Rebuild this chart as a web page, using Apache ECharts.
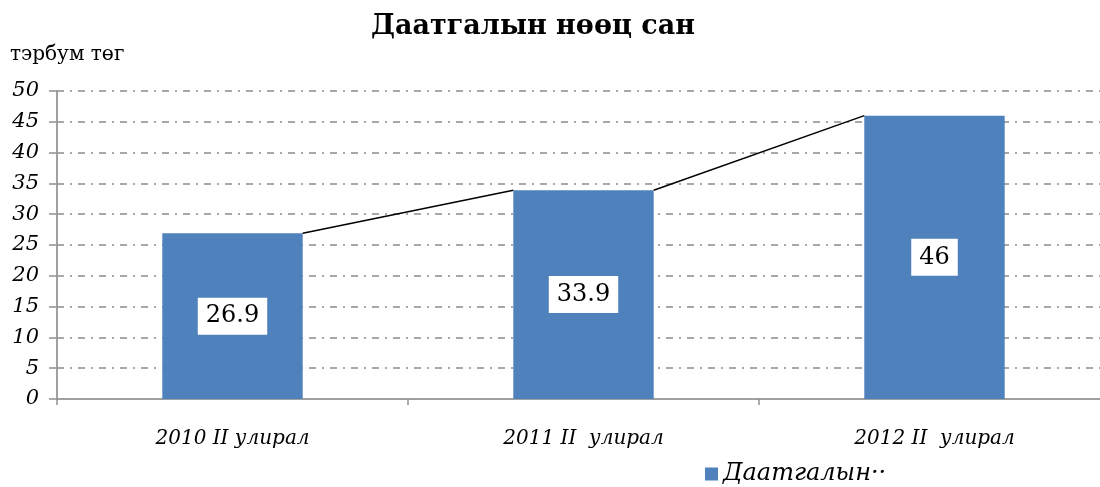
<!DOCTYPE html>
<html>
<head>
<meta charset="utf-8">
<title>Даатгалын нөөц сан</title>
<script src="https://cdn.jsdelivr.net/npm/echarts@6/dist/echarts.min.js"></script>
<style>
  html, body { margin: 0; padding: 0; background: #fff; }
  #chart { width: 1100px; height: 487px; }
</style>
</head>
<body>
<div id="chart"></div>
<script>
// data
const categories = ['2010 II улирал', '2011 II  улирал', '2012 II  улирал'];
const reserveValues = [26.9, 33.9, 46];
const seriesName = 'Даатгалын нөөц сан';

const font = 'DejaVu Serif';
const barColor = '#4f81bd';

// series lines between neighbouring bars (right top corner -> next left top corner)
const linkData = [];
for (let i = 0; i < reserveValues.length - 1; i++) {
    linkData.push([i, reserveValues[i], reserveValues[i + 1]]);
}

const chart = echarts.init(document.getElementById('chart'));
chart.setOption({
    animation: false,
    title: {
        text: 'Даатгалын нөөц сан',
        left: 528,
        textAlign: 'center',
        top: 8,
        textStyle: { fontFamily: font, fontSize: 27, fontWeight: 'bold', color: '#000' }
    },
    legend: {
        data: [seriesName],
        left: 700,
        top: 457,
        itemWidth: 13,
        itemHeight: 13,
        icon: 'rect',
        itemGap: 4,
        formatter: name => name.split(' ')[0] + '··',
        textStyle: { fontFamily: font, fontSize: 24, fontStyle: 'italic', color: '#000' }
    },
    // axis runs past the right edge of the picture, as in the reference
    grid: { left: 57, width: 1053, top: 91, bottom: 88, outerBoundsMode: 'none' },
    xAxis: {
        type: 'category',
        data: categories,
        axisLine: { lineStyle: { color: '#a0a0a0', width: 2 } },
        axisTick: { show: true, length: 6, lineStyle: { color: '#909090', width: 1.5 } },
        axisLabel: {
            margin: 30,
            fontFamily: font, fontSize: 20, fontStyle: 'italic', color: '#000'
        }
    },
    yAxis: {
        type: 'value',
        min: 0,
        max: 50,
        interval: 5,
        name: 'тэрбум төг',
        nameLocation: 'end',
        nameGap: 26,
        nameTextStyle: { fontFamily: font, fontSize: 20, color: '#000', align: 'left', padding: [0, 0, 0, -47] },
        axisLine: { show: true, lineStyle: { color: '#a0a0a0', width: 2 } },
        axisTick: { show: true, length: 8, lineStyle: { color: '#909090', width: 1.5 } },
        axisLabel: {
            margin: 18,
            fontFamily: font, fontSize: 21, fontStyle: 'italic', color: '#000'
        },
        splitLine: {
            lineStyle: { color: '#8c8c8c', width: 1.5, type: [7, 6, 2, 6] }
        }
    },
    series: [
        {
            name: seriesName,
            type: 'bar',
            data: reserveValues,
            barWidth: '40%',
            itemStyle: { color: barColor },
            label: {
                show: true,
                position: 'inside',
                fontFamily: font,
                fontSize: 24,
                color: '#000',
                backgroundColor: '#fff',
                padding: [7, 8, 6, 8]
            }
        },
        {
            type: 'custom',
            data: linkData,
            silent: true,
            z: 3,
            renderItem: function (params, api) {
                const i = api.value(0);
                const p0 = api.coord([i, api.value(1)]);
                const p1 = api.coord([i + 1, api.value(2)]);
                const half = api.size([1, 0])[0] * 0.4 / 2;
                return {
                    type: 'line',
                    shape: { x1: p0[0] + half, y1: p0[1], x2: p1[0] - half, y2: p1[1] },
                    style: { stroke: '#000', lineWidth: 1.5 }
                };
            }
        }
    ]
});
</script>
</body>
</html>
